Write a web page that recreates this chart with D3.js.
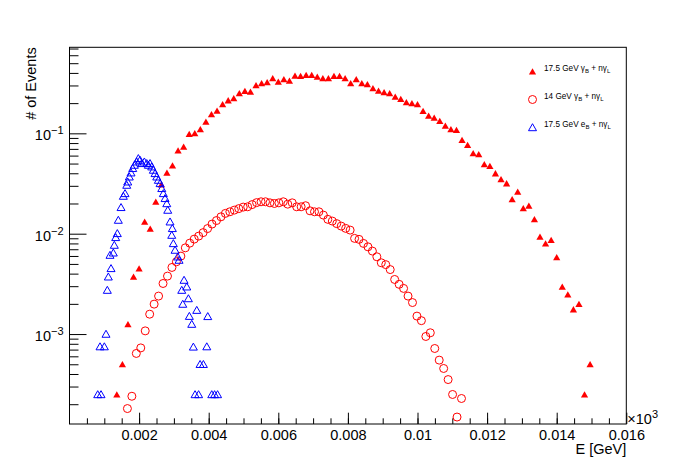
<!DOCTYPE html>
<html>
<head>
<meta charset="utf-8">
<script src="https://cdn.jsdelivr.net/npm/d3@7"></script>
<style>
  body { margin: 0; background: #fff; }
  text { font-family: "Liberation Sans", Arial, Helvetica, sans-serif; }
</style>
</head>
<body>
<div id="chart"></div>
<script>
// 17.5 GeV gamma_B + n gamma_L : histogram, 100 bins over [0, 0.016] GeV
const redBinWidth = 0.00016;
const redFirstBin = 8;
const redValues = [
  2.5e-4, 5e-4, 1.25e-3, 3.72e-3, 4.5e-3, 1.315e-2, 1.12e-2, 2.08e-2, 3.09e-2, 4.05e-2,
  4.78e-2, 6.74e-2, 7.35e-2, 9.84e-2, 0.1, 0.1096, 0.1305, 0.1546, 0.168, 0.1945,
  0.213, 0.2233, 0.2505, 0.264, 0.26, 0.301, 0.315, 0.322, 0.353, 0.327,
  0.345, 0.334, 0.375, 0.372, 0.381, 0.381, 0.366, 0.353, 0.353, 0.372,
  0.372, 0.353, 0.315, 0.345, 0.315, 0.308, 0.281, 0.266, 0.256, 0.2505,
  0.2317, 0.2198, 0.2038, 0.199, 0.1945, 0.1668, 0.1496, 0.1431, 0.1327, 0.1191,
  0.1096, 0.1078, 0.0857, 0.0764, 0.0632, 0.0618, 0.0491, 0.0472, 0.0399, 0.0348,
  0.0317, 0.022, 0.0262, 0.0179, 0.019, 0.0139, 0.0093, 0.008, 0.00863, 0.00581,
  0.00296, 0.00248, 0.00176, 0.00199, 2.5e-4, 5e-4
];

// 14 GeV gamma_B + n gamma_L : bins scaled by 14/17.5
const circleBinWidth = 0.000128;
const circleFirstBin = 13;
const circleValues = [
  1.81e-4, 2.4e-4, 6.41e-4, 7.28e-4, 1.076e-3, 1.578e-3, 1.987e-3, 2.39e-3, 3.19e-3, 3.78e-3,
  4.61e-3, 5.25e-3, 5.98e-3, 7.23e-3, 8.05e-3, 8.83e-3, 9.46e-3, 1.025e-2, 1.125e-2, 1.247e-2,
  1.352e-2, 1.473e-2, 1.594e-2, 1.653e-2, 1.718e-2, 1.778e-2, 1.841e-2, 1.854e-2, 1.95e-2, 2.04e-2,
  2.08e-2, 2.08e-2, 2.03e-2, 2.0e-2, 2.03e-2, 2.08e-2, 1.97e-2, 2.03e-2, 1.854e-2, 1.854e-2,
  1.9e-2, 1.69e-2, 1.653e-2, 1.653e-2, 1.532e-2, 1.39e-2, 1.336e-2, 1.26e-2, 1.19e-2, 1.13e-2,
  1.086e-2, 8.98e-3, 8.78e-3, 8.0e-3, 7.4e-3, 6.71e-3, 5.89e-3, 5.13e-3, 4.92e-3, 4.39e-3,
  3.5e-3, 3.13e-3, 2.85e-3, 2.39e-3, 2.06e-3, 1.51e-3, 1.36e-3, 9.46e-4, 1.03e-3, 7.18e-4,
  5.5e-4, 4.54e-4, 3.52e-4, 2.5e-4, 1.49e-4, 2.28e-4
];

// 17.5 GeV e_B + n gamma_L
const blueE = [
  0.000811, 0.000877, 0.000906, 0.001001, 0.001049, 0.001087, 0.001116, 0.001164, 0.001193, 0.001259,
  0.001288, 0.001328, 0.001374, 0.001403, 0.001481, 0.001547, 0.001596, 0.001645, 0.001673, 0.001719,
  0.001768, 0.001817, 0.001863, 0.001932, 0.001978, 0.002027, 0.002076, 0.002151, 0.00222, 0.002266,
  0.002314, 0.002363, 0.002409, 0.002458, 0.002507, 0.002553, 0.002602, 0.002651, 0.002697, 0.002746,
  0.002795, 0.002823, 0.002889, 0.002938, 0.002956, 0.002984, 0.003033, 0.003111, 0.003148, 0.003226,
  0.003255, 0.003292, 0.00337, 0.003416, 0.003444, 0.003513, 0.003559, 0.003608, 0.003657, 0.00371,
  0.003752, 0.003847, 0.003945, 0.003973, 0.004088, 0.004169, 0.004255
];
const blueValues = [
  2.5e-4, 7.5e-4, 2.5e-4, 7.5e-4, 1.0e-3, 2.74e-3, 3.72e-3, 6.12e-3, 4.51e-3, 6.45e-3,
  7.7e-3, 9.19e-3, 1.007e-2, 1.367e-2, 1.83e-2, 2.37e-2, 2.52e-2, 3.05e-2, 3.29e-2, 3.69e-2,
  4.05e-2, 4.48e-2, 4.83e-2, 5.21e-2, 5.63e-2, 5.42e-2, 5.02e-2, 5.21e-2, 5.02e-2, 4.83e-2,
  5.02e-2, 4.65e-2, 4.31e-2, 3.99e-2, 3.69e-2, 3.42e-2, 3.17e-2, 2.83e-2, 2.52e-2, 2.25e-2,
  2.0e-2, 1.72e-2, 1.315e-2, 9.68e-3, 1.13e-2, 8.0e-3, 6.87e-3, 5.89e-3, 5.46e-3, 2.74e-3,
  1.99e-3, 3.45e-3, 2.96e-3, 2.26e-3, 1.507e-3, 1.256e-3, 7.45e-4, 2.5e-4, 1.73e-3, 2.5e-4,
  5e-4, 5e-4, 7.5e-4, 1.5e-3, 2.5e-4, 2.5e-4, 2.5e-4
];

const xTickValues = [0.002, 0.004, 0.006, 0.008, 0.01, 0.012, 0.014, 0.016];
const yTickValues = [1e-3, 1e-2, 1e-1];
const legendLabels = [
  ['17.5 GeV \u03B3', 'B', ' + n\u03B3', 'L'],
  ['14 GeV \u03B3', 'B', ' + n\u03B3', 'L'],
  ['17.5 GeV e', 'B', ' + n\u03B3', 'L']
];

const width = 696, height = 472;
const frame = { left: 69.5, right: 626.3, top: 47.3, bottom: 424 };

const svg = d3.select('#chart')
  .append('svg')
  .attr('width', width)
  .attr('height', height);

svg.append('rect').attr('width', width).attr('height', height).attr('fill', '#fff');

const x = d3.scaleLinear().domain([0, 0.016]).range([frame.left, frame.right]);
const y = d3.scaleLog().domain([1.27e-4, 0.72]).range([frame.bottom, frame.top]);

// series in plotting order
const redData = redValues.map((v, j) => ({ e: (redFirstBin + j + 0.5) * redBinWidth, v }));
const circleData = circleValues.map((v, j) => ({ e: (circleFirstBin + j) * circleBinWidth, v }));
const blueData = blueValues.map((v, j) => ({ e: blueE[j], v }));

const filledTri = 'M0,-3.3L3.6,3L-3.6,3Z';
const openTri = 'M0,-3.8L4,3.2L-4,3.2Z';

// ---- axes
const xMinor = d3.range(1, 32).map(k => k * 0.0005);
svg.append('g')
  .attr('transform', `translate(0,${frame.bottom})`)
  .call(d3.axisBottom(x).tickValues(xMinor).tickSize(-5.7).tickFormat(''))
  .call(g => g.select('.domain').remove());

svg.append('g')
  .attr('transform', `translate(0,${frame.bottom})`)
  .call(d3.axisBottom(x).tickValues(xTickValues).tickSize(-11.3).tickPadding(5.5).tickFormat(d3.format('~g')))
  .call(g => g.select('.domain').remove())
  .call(g => g.selectAll('text').attr('fill', '#000').style('font-size', '14.5px'));

const yMinor = [];
[1e-4, 1e-3, 1e-2, 1e-1].forEach(dec => {
  d3.range(2, 10).forEach(m => {
    const v = m * dec;
    if (v > y.domain()[0] && v < y.domain()[1]) yMinor.push(v);
  });
});
svg.append('g')
  .attr('transform', `translate(${frame.left},0)`)
  .call(d3.axisLeft(y).tickValues(yMinor).tickSize(-9).tickFormat(''))
  .call(g => g.select('.domain').remove());

svg.append('g')
  .attr('transform', `translate(${frame.left},0)`)
  .call(d3.axisLeft(y).tickValues(yTickValues).tickSize(-17).tickPadding(6).tickFormat(() => '10'))
  .call(g => g.select('.domain').remove())
  .call(g => g.selectAll('text')
    .attr('fill', '#000')
    .attr('dy', '0.45em')
    .style('font-size', '14.5px')
    .append('tspan')
    .attr('dy', '-0.55em')
    .style('font-size', '11px')
    .text(d => '\u2212' + Math.round(-Math.log10(d))));

svg.selectAll('.tick line').attr('stroke', '#000');

// frame
svg.append('rect')
  .attr('x', frame.left)
  .attr('y', frame.top)
  .attr('width', frame.right - frame.left)
  .attr('height', frame.bottom - frame.top)
  .attr('fill', 'none')
  .attr('stroke', '#000')
  .attr('stroke-width', 1);

// axis titles
svg.append('text')
  .attr('x', frame.right)
  .attr('y', 454)
  .attr('text-anchor', 'end')
  .style('font-size', '14.5px')
  .text('E [GeV]');

svg.append('text')
  .attr('transform', `translate(36,${frame.top}) rotate(-90)`)
  .attr('text-anchor', 'end')
  .style('font-size', '14.5px')
  .text('# of Events');

const mult = svg.append('text')
  .attr('x', frame.right + 1)
  .attr('y', 424)
  .style('font-size', '14.5px')
  .text('\u00D710');
mult.append('tspan').attr('dy', '-6').style('font-size', '11px').text('3');

// ---- data
svg.append('g').selectAll('path')
  .data(redData)
  .join('path')
  .attr('transform', d => `translate(${x(d.e)},${y(d.v)})`)
  .attr('d', filledTri)
  .attr('fill', '#ff0000');

svg.append('g').selectAll('circle')
  .data(circleData)
  .join('circle')
  .attr('cx', d => x(d.e))
  .attr('cy', d => y(d.v))
  .attr('r', 4)
  .attr('fill', 'none')
  .attr('stroke', '#ff0000')
  .attr('stroke-width', 1);

svg.append('g').selectAll('path')
  .data(blueData)
  .join('path')
  .attr('transform', d => `translate(${x(d.e)},${y(d.v)})`)
  .attr('d', openTri)
  .attr('fill', 'none')
  .attr('stroke', '#0000ff')
  .attr('stroke-width', 1);

// ---- legend
const legend = svg.append('g').attr('transform', 'translate(532.5,71.5)');
const rowGap = 28;
legend.append('path').attr('d', filledTri).attr('fill', '#ff0000');
legend.append('circle').attr('cy', rowGap).attr('r', 4).attr('fill', 'none').attr('stroke', '#ff0000');
legend.append('path').attr('transform', `translate(0,${2 * rowGap})`).attr('d', openTri)
  .attr('fill', 'none').attr('stroke', '#0000ff');

legendLabels.forEach((parts, i) => {
  const t = legend.append('text')
    .attr('x', 11.5)
    .attr('y', i * rowGap - 1)
    .style('font-size', '8.2px');
  t.append('tspan').text(parts[0]);
  t.append('tspan').attr('dy', 2.5).style('font-size', '6px').text(parts[1]);
  t.append('tspan').attr('dy', -2.5).text(parts[2]);
  t.append('tspan').attr('dy', 2.5).style('font-size', '6px').text(parts[3]);
});
</script>
</body>
</html>
